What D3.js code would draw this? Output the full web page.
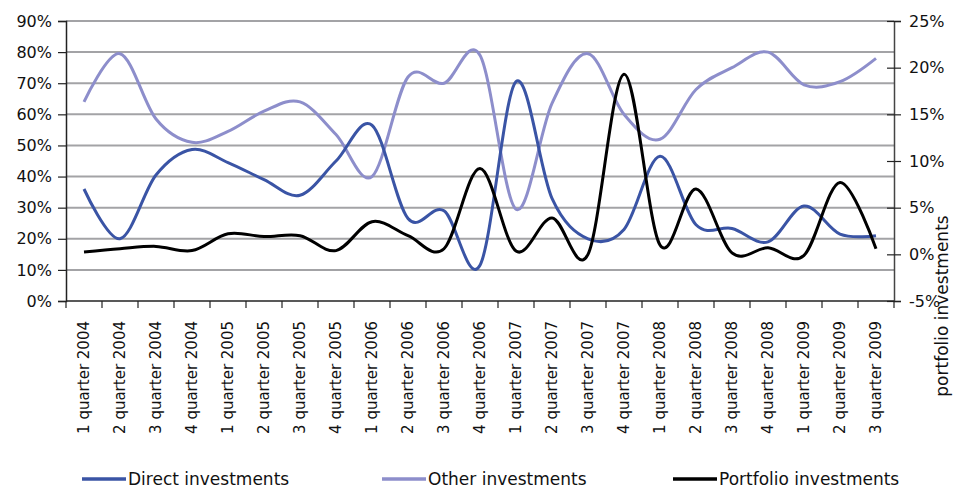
<!DOCTYPE html>
<html>
<head>
<meta charset="utf-8">
<script src="https://cdn.jsdelivr.net/npm/d3@7"></script>
<style>
  html, body { margin: 0; padding: 0; background: #fff; }
  svg { display: block; font-family: "DejaVu Sans", sans-serif; }
</style>
</head>
<body>
<svg id="chart" width="955" height="488"></svg>
<script>
// Quarterly structure of investments, 2004–2009
const quarters = [
  "1 quarter 2004", "2 quarter 2004", "3 quarter 2004", "4 quarter 2004",
  "1 quarter 2005", "2 quarter 2005", "3 quarter 2005", "4 quarter 2005",
  "1 quarter 2006", "2 quarter 2006", "3 quarter 2006", "4 quarter 2006",
  "1 quarter 2007", "2 quarter 2007", "3 quarter 2007", "4 quarter 2007",
  "1 quarter 2008", "2 quarter 2008", "3 quarter 2008", "4 quarter 2008",
  "1 quarter 2009", "2 quarter 2009", "3 quarter 2009"
];

// Left axis (share, %)
const directInvestments = [36, 20, 40.5, 48.7, 44.5, 39, 34, 45, 56.5, 26.5, 29, 11.5, 70.5, 33, 20, 23, 46.5, 24.5, 23.3, 19, 30.5, 21.5, 21];
const otherInvestments  = [64, 79.5, 58.5, 51, 54.5, 61, 64, 53.5, 40, 72, 70, 79, 29.5, 63.5, 79.5, 60, 52, 68, 75, 80, 69.5, 70.5, 78];
// Right axis (%)
const portfolioInvestments = [0.25, 0.6, 0.85, 0.4, 2.2, 1.9, 2.0, 0.4, 3.5, 2.0, 0.6, 9.2, 0.35, 3.9, 0, 19.3, 1.0, 7.0, 0.15, 0.7, -0.1, 7.7, 0.6];

const leftTicks  = [0, 10, 20, 30, 40, 50, 60, 70, 80, 90];
const rightTicks = [-5, 0, 5, 10, 15, 20, 25];

const seriesNames  = ["Direct investments", "Other investments", "Portfolio investments"];
const seriesColors = ["#3a54a5", "#8d8ecb", "#000000"];

const rightTitle = "portfolio investments";

const svg = d3.select("#chart");
const plot = { left: 66, right: 894, top: 21, bottom: 301 };

const x = d3.scaleBand().domain(quarters).range([plot.left, plot.right]).padding(0);
const yL = d3.scaleLinear().domain([0, 90]).range([plot.bottom, plot.top]);
const yR = d3.scaleLinear().domain([-5, 25]).range([plot.bottom, plot.top]);

// Gridlines follow the left axis
svg.append("g")
  .selectAll("line")
  .data(leftTicks.filter(d => d > 0))
  .join("line")
  .attr("x1", plot.left).attr("x2", plot.right)
  .attr("y1", d => yL(d)).attr("y2", d => yL(d))
  .attr("stroke", "#a3a3a6").attr("stroke-width", 2);

// Left axis
const axL = svg.append("g")
  .attr("transform", `translate(${plot.left},0)`)
  .call(d3.axisLeft(yL).tickValues(leftTicks).tickFormat(d => d + "%").tickSize(8).tickPadding(6));
axL.select(".domain").attr("stroke", "#222").attr("stroke-width", 1.5);
axL.selectAll(".tick line").attr("stroke", "#222").attr("stroke-width", 1.2);
axL.selectAll("text").attr("font-size", 16).attr("fill", "#111")
  .attr("font-family", "DejaVu Sans, sans-serif");

// Right axis (ticks cross the axis line)
const axR = svg.append("g")
  .attr("transform", `translate(${plot.right},0)`)
  .call(d3.axisRight(yR).tickValues(rightTicks).tickFormat(d => d + "%").tickSize(7).tickPadding(8));
axR.select(".domain").attr("stroke", "#444").attr("stroke-width", 1.5);
axR.selectAll(".tick line").attr("x1", -7).attr("stroke", "#222").attr("stroke-width", 1.2);
axR.selectAll("text").attr("font-size", 16).attr("fill", "#111")
  .attr("font-family", "DejaVu Sans, sans-serif");

// Bottom axis: ticks on category boundaries, rotated labels
const axB = svg.append("g").attr("transform", `translate(0,${plot.bottom})`);
axB.append("line")
  .attr("x1", plot.left).attr("x2", plot.right)
  .attr("stroke", "#222").attr("stroke-width", 1.5);
axB.selectAll("line.tick")
  .data(quarters.concat([null]))
  .join("line").attr("class", "tick")
  .attr("x1", (d, i) => plot.left + i * x.step())
  .attr("x2", (d, i) => plot.left + i * x.step())
  .attr("y1", 0).attr("y2", 7)
  .attr("stroke", "#222").attr("stroke-width", 1.2);
axB.selectAll("text")
  .data(quarters)
  .join("text")
  .attr("transform", d => `translate(${x(d) + x.bandwidth() / 2 + 5},20) rotate(-90)`)
  .attr("text-anchor", "end")
  .attr("font-size", 15)
  .attr("fill", "#111")
  .text(d => d);

// Right axis title
svg.append("text")
  .attr("transform", "translate(948,306) rotate(-90)")
  .attr("text-anchor", "middle")
  .attr("font-size", 17)
  .attr("fill", "#111")
  .text(rightTitle);

// Smoothed series lines
const curve = d3.curveCatmullRom.alpha(0);
const lineL = d3.line().x((d, i) => x(quarters[i]) + x.bandwidth() / 2).y(d => yL(d)).curve(curve);
const lineR = d3.line().x((d, i) => x(quarters[i]) + x.bandwidth() / 2).y(d => yR(d)).curve(curve);

svg.append("path").datum(otherInvestments)
  .attr("d", lineL).attr("fill", "none")
  .attr("stroke", seriesColors[1]).attr("stroke-width", 3);
svg.append("path").datum(directInvestments)
  .attr("d", lineL).attr("fill", "none")
  .attr("stroke", seriesColors[0]).attr("stroke-width", 3);
svg.append("path").datum(portfolioInvestments)
  .attr("d", lineR).attr("fill", "none")
  .attr("stroke", seriesColors[2]).attr("stroke-width", 3);

// Legend
const legendX = [82, 382, 673];
const legend = svg.append("g")
  .selectAll("g")
  .data(seriesNames)
  .join("g")
  .attr("transform", (d, i) => `translate(${legendX[i]},479)`);
legend.append("line")
  .attr("x1", 0).attr("x2", 44)
  .attr("stroke", (d, i) => seriesColors[i]).attr("stroke-width", 3.5);
legend.append("text")
  .attr("x", 46).attr("y", 6)
  .attr("font-size", 17)
  .attr("fill", "#111")
  .text(d => d);
</script>
</body>
</html>
